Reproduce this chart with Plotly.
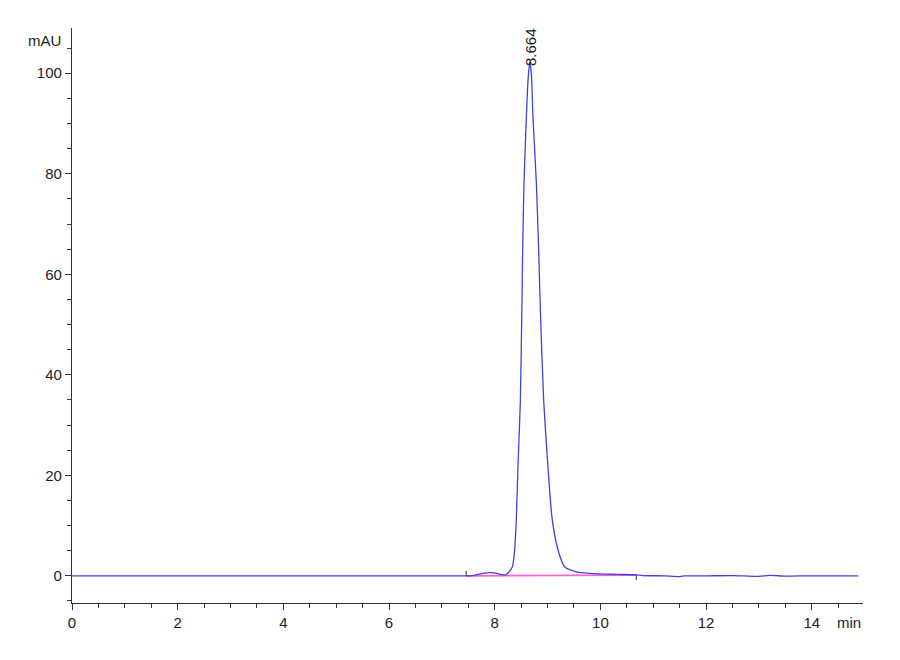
import plotly.graph_objects as go

# Chromatogram signal (min, mAU)
time_min = [0.0, 0.3, 1.0, 3.0, 5.0, 7.0, 7.45, 7.58, 7.7, 7.8, 7.9, 8.0, 8.1, 8.19,
            8.246, 8.335, 8.378, 8.41, 8.44, 8.486, 8.516, 8.529, 8.554, 8.599, 8.63,
            8.664, 8.695, 8.724, 8.788, 8.832, 8.864, 8.926, 9.008, 9.083, 9.197, 9.323,
            9.544, 9.985, 10.3, 10.68, 10.8, 11.2, 11.5, 11.6, 12.0, 12.5, 13.0, 13.2,
            13.5, 14.0, 14.88]
signal_mau = [0.0, 0.0, 0.0, 0.0, 0.0, 0.0, 0.0, 0.05, 0.35, 0.55, 0.65, 0.6, 0.3, 0.15,
              0.5, 1.8, 5.2, 11.7, 21.7, 35.0, 54.9, 64.8, 78.1, 91.3, 98.5,
              102.3, 99.5, 91.3, 78.2, 64.8, 52.9, 35.0, 21.7, 11.7, 5.2, 1.8,
              0.8, 0.4, 0.3, 0.2, 0.05, 0.0, -0.15, 0.0, 0.0, 0.05, -0.1, 0.1,
              -0.05, 0.0, 0.0]

# Integration baseline (pink) and its start / end markers
baseline_time = [7.46, 10.68]
baseline_mau = [0.0, 0.15]
marker_start = [7.46, 7.46]
marker_start_mau = [0.0, 1.0]
marker_end = [10.68, 10.68]
marker_end_mau = [0.15, -0.85]

peak_rt = 8.664
peak_label = "8.664"
peak_height = 101.0

x_ticks = [0, 2, 4, 6, 8, 10, 12, 14]
y_ticks = [0, 20, 40, 60, 80, 100]

FONT = "Liberation Sans, Arial, sans-serif"
AX = "#333333"

fig = go.Figure()
fig.add_trace(go.Scatter(x=baseline_time, y=baseline_mau, mode="lines",
                         line=dict(color="#ff5fd2", width=1.6), hoverinfo="skip"))
fig.add_trace(go.Scatter(x=time_min, y=signal_mau, mode="lines",
                         line=dict(color="#4242dc", width=1.3, shape="spline", smoothing=0.6),
                         hoverinfo="skip"))
fig.add_trace(go.Scatter(x=marker_start, y=marker_start_mau, mode="lines",
                         line=dict(color="#333333", width=1), hoverinfo="skip"))
fig.add_trace(go.Scatter(x=marker_end, y=marker_end_mau, mode="lines",
                         line=dict(color="#333333", width=1), hoverinfo="skip"))

fig.add_annotation(x=peak_rt, y=peak_height, text=peak_label, textangle=-90,
                   showarrow=False, xanchor="center", yanchor="bottom",
                   font=dict(family=FONT, size=15, color="#222222"))
fig.add_annotation(xref="paper", yref="paper", x=-0.012, y=0.979, text="mAU",
                   showarrow=False, xanchor="right", yanchor="middle",
                   font=dict(family=FONT, size=15, color="#222222"))
fig.add_annotation(xref="paper", yref="paper", x=1.0, y=-0.034, text="min",
                   showarrow=False, xanchor="right", yanchor="middle",
                   font=dict(family=FONT, size=15, color="#222222"))

fig.update_layout(
    width=900, height=660,
    margin=dict(l=64, r=45, t=20, b=65),
    paper_bgcolor="white", plot_bgcolor="white",
    showlegend=False,
    font=dict(family=FONT, size=15, color="#222222"),
    xaxis=dict(range=[0, 14.97], tickvals=x_ticks, showgrid=False, zeroline=False,
               showline=True, linecolor=AX, linewidth=1.2, ticks="outside",
               ticklen=6, tickcolor=AX, tickwidth=1.2,
               minor=dict(dtick=0.5, tick0=0, ticks="outside", ticklen=4,
                          tickcolor=AX, tickwidth=1, showgrid=False)),
    yaxis=dict(range=[-5.4, 109], tickvals=y_ticks, showgrid=False, zeroline=False,
               showline=True, linecolor=AX, linewidth=1.2, ticks="outside",
               ticklen=6, tickcolor=AX, tickwidth=1.2,
               minor=dict(dtick=5, tick0=0, ticks="outside", ticklen=4,
                          tickcolor=AX, tickwidth=1, showgrid=False)),
)

fig.write_html("out.html")
